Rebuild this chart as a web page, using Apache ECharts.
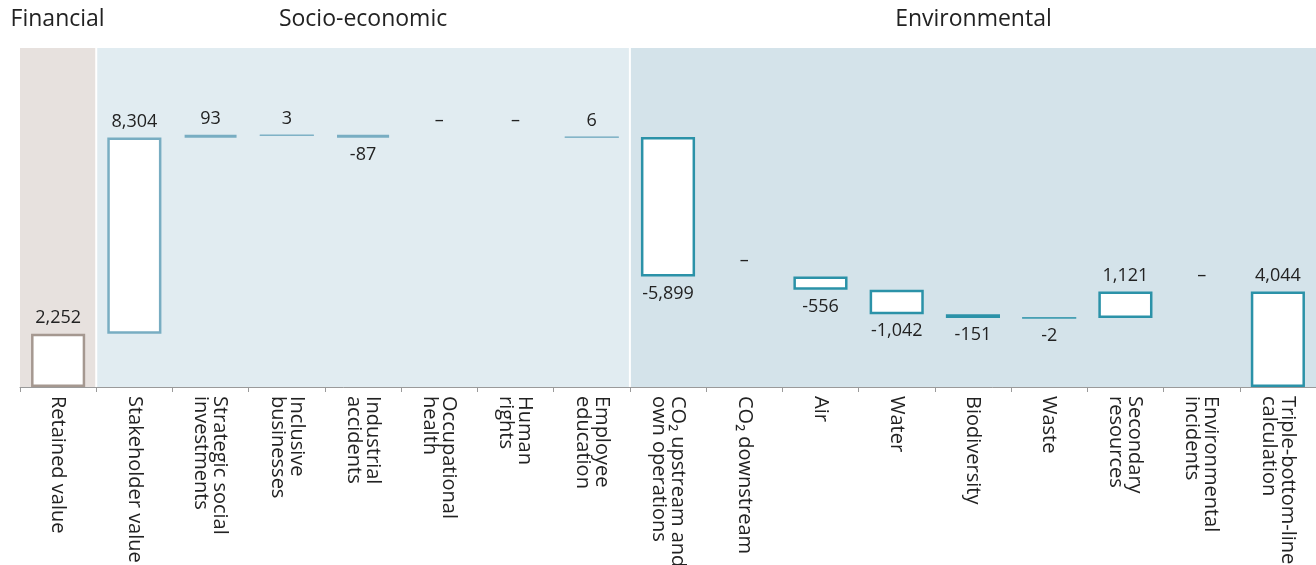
<!DOCTYPE html>
<html>
<head>
<meta charset="utf-8">
<script src="https://cdn.jsdelivr.net/npm/echarts@6/dist/echarts.min.js"></script>
<style>
html,body{margin:0;padding:0;background:#fff;}
#chart{width:1316px;height:565px;}
</style>
</head>
<body>
<div id="chart"></div>
<script>
// ---- data ----
const categories = [
  'Retained value', 'Stakeholder value', 'Strategic social\ninvestments', 'Inclusive\nbusinesses',
  'Industrial\naccidents', 'Occupational\nhealth', 'Human\nrights', 'Employee\neducation',
  'CO\u2082 upstream and\nown operations', 'CO\u2082 downstream', 'Air', 'Water', 'Biodiversity',
  'Waste', 'Secondary\nresources', 'Environmental\nincidents', 'Triple-bottom-line\ncalculation'
];
const values = [2252, 8304, 93, 3, -87, null, null, 6, -5899, null, -556, -1042, -151, -2, 1121, null, 4044];
const kinds = ['total','delta','delta','delta','delta','delta','delta','delta','delta','delta','delta','delta','delta','delta','delta','delta','total'];
const groupNames = ['Financial', 'Socio-economic', 'Environmental'];
const groupStart = [0, 1, 8];
const groupEnd = [0, 7, 16];

// ---- styles ----
const FONT = "'Open Sans', 'Noto Sans', sans-serif";
const bandColors = ['#e7e1de', '#e1ecf1', '#d4e3ea'];
const barColors = ['#a59890', '#78adc2', '#2b92a8'];
const textColor = '#222222';

function groupOf(i) {
  for (let g = 0; g < groupStart.length; g++) if (i >= groupStart[g] && i <= groupEnd[g]) return g;
  return 0;
}

// ---- waterfall computation ----
const baseData = [];
const deltaData = [];
let running = 0;
values.forEach((v, i) => {
  const col = barColors[groupOf(i)];
  let base, h, pos, text;
  if (kinds[i] === 'total') {
    base = 0; h = v; running = v; pos = 'top'; text = v.toLocaleString('en-US');
  } else if (v === null) {
    base = running; h = 0; pos = 'top'; text = '\u2013';
  } else if (v >= 0) {
    base = running; h = v; running += v; pos = 'top'; text = v.toLocaleString('en-US');
  } else {
    running += v; base = running; h = -v; pos = 'bottom'; text = v.toLocaleString('en-US');
  }
  baseData.push(base);
  const tiny = v !== null && Math.abs(v) < 20;
  const small = v !== null && Math.abs(v) < 300;
  deltaData.push({
    value: h,
    itemStyle: {
      color: small ? col : '#ffffff',
      borderColor: col,
      borderWidth: v === null ? 0 : (tiny ? 1 : (small ? 3 : 2.5)),
      opacity: v === null ? 0 : 1
    },
    label: {
      show: true,
      position: pos,
      distance: pos === 'top' ? 7 : 8,
      formatter: text,
      opacity: 1
    }
  });
});

const bandData = groupNames.map((n, g) => [groupStart[g], groupEnd[g], 0, g]);

const chart = echarts.init(document.getElementById('chart'));
chart.setOption({
  animation: false,
  backgroundColor: '#ffffff',
  grid: { left: 20, right: 0, top: 48, bottom: 178, containLabel: false, outerBoundsMode: 'none' },
  xAxis: {
    type: 'category',
    data: categories,
    axisLine: { lineStyle: { color: '#9a9a9a', width: 1 } },
    axisTick: { show: true, length: 5, lineStyle: { color: '#9a9a9a' } },
    axisLabel: {
      interval: 0, rotate: -90, margin: 9,
      fontFamily: FONT, fontSize: 20, lineHeight: 19, color: textColor
    }
  },
  yAxis: {
    type: 'value', min: 0, max: 14340, show: false,
    splitLine: { show: false }
  },
  series: [
    {
      type: 'custom',
      z: 0,
      silent: true,
      clip: false,
      encode: { x: [0, 1], y: 2 },
      data: bandData,
      renderItem: function (params, api) {
        const s = api.value(0), e = api.value(1), g = api.value(3);
        const w = api.size([1, 0])[0];
        let x0 = api.coord([s, 0])[0] - w / 2;
        let x1 = api.coord([e, 0])[0] + w / 2;
        if (s > 0) x0 += 1;
        if (e < categories.length - 1) x1 -= 1;
        const cs = params.coordSys;
        return {
          type: 'group',
          children: [
            { type: 'rect', shape: { x: x0, y: cs.y, width: x1 - x0, height: cs.height },
              style: { fill: bandColors[g] } },
            { type: 'text', style: { text: groupNames[g], x: (x0 + x1) / 2, y: cs.y - 29,
              textAlign: 'center', textVerticalAlign: 'middle',
              font: '23px ' + FONT, fill: textColor } }
          ]
        };
      }
    },
    {
      type: 'bar', stack: 'w', barWidth: '71%', z: 2, silent: true,
      itemStyle: { color: 'rgba(0,0,0,0)' },
      data: baseData
    },
    {
      type: 'bar', stack: 'w', barWidth: '71%', z: 3,
      label: { fontFamily: FONT, fontSize: 18, color: textColor },
      data: deltaData
    }
  ]
});
</script>
</body>
</html>
